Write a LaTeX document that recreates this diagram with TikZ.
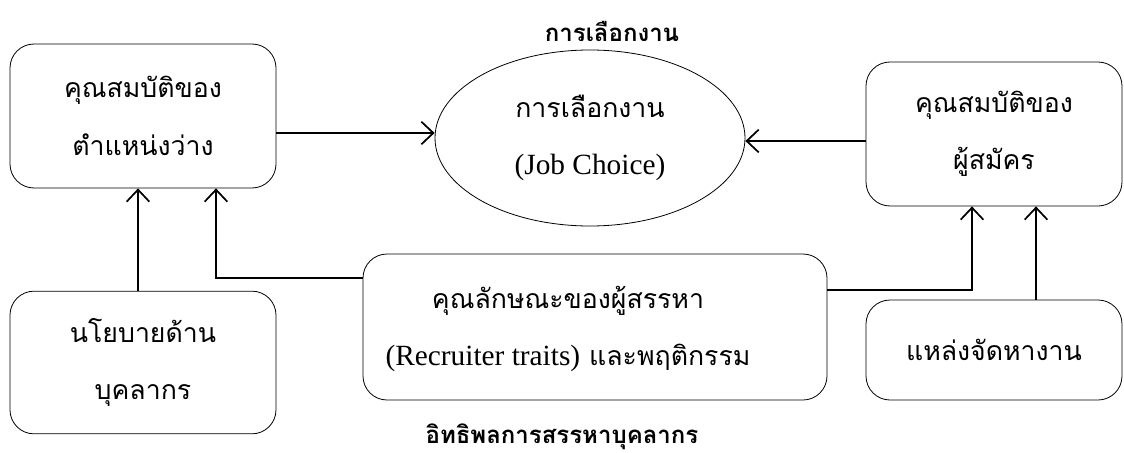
\documentclass[tikz,border=0pt]{standalone}
\usepackage{fontspec}
\setmainfont{Liberation Serif}
\newfontfamily\thaifont[Script=Thai]{Loma}
\usetikzlibrary{arrows.meta,shapes.geometric}
\newcommand{\lat}[1]{{\rmfamily\fontsize{22}{43}\selectfont #1}}
\begin{document}
\begin{tikzpicture}[x=0.75pt,y=-0.75pt,
  box/.style={draw, line width=0.6pt, rounded corners=18pt, align=center, inner sep=0pt,
    font=\thaifont\fontsize{20}{43}\selectfont},
  txt/.style={align=center, inner sep=0pt, font=\thaifont\fontsize{20}{43}\selectfont},
  ell/.style={draw, line width=0.6pt, ellipse, align=center, inner sep=0pt,
    font=\thaifont\fontsize{20}{43}\selectfont},
  ttl/.style={font=\thaifont\bfseries\fontsize{18}{22}\selectfont},
  conn/.style={line width=1.5pt, -{Straight Barb[length=9pt,width=17pt,line width=1.3pt]}}]
\useasboundingbox (0,0) rectangle (1124,453);
% boxes
\node[box, minimum width=199.5pt, minimum height=108pt] (job) at (143,116)
  {คุณสมบัติของ\\ตำแหน่งว่าง};
\node[box, minimum width=192pt, minimum height=108pt] (app) at (994,134)
  {คุณสมบัติของ\\ผู้สมัคร};
\node[box, minimum width=199.5pt, minimum height=107pt] (pol) at (143,362.5)
  {นโยบายด้าน\\บุคลากร};
\node[box, minimum width=348pt, minimum height=109.5pt] (rec) at (595,327) {};
\node[txt] (rectxt) at (568,329)
  {คุณลักษณะของผู้สรรหา\\\lat{(Recruiter traits)} และพฤติกรรม};
\node[box, minimum width=192pt, minimum height=75pt] (src) at (994,350)
  {แหล่งจัดหางาน};
\node[ell, minimum width=232.5pt, minimum height=132pt] (choice) at (590,138)
  {การเลือกงาน\\\lat{(Job Choice)}};
% titles
\node[ttl] (t1) at (612,31) {การเลือกงาน};
\node[ttl] (t2) at (562,437) {อิทธิพลการสรรหาบุคลากร};
% connectors
\draw[conn] ([yshift=-12.75pt]job.east) -- ([yshift=-12.75pt]job.east -| choice.west);
\draw[conn] ([yshift=-5.25pt]app.west) -- ([yshift=-5.25pt]app.west -| choice.east);
\coordinate (ja) at ([xshift=-3.75pt]job.south);
\coordinate (jb) at ([xshift=54.75pt]job.south);
\draw[conn] (pol.north -| ja) -- (ja);
\draw[conn] ([yshift=36.75pt]rec.west) -| (jb);
\coordinate (aa) at ([xshift=-16.5pt]app.south);
\coordinate (ab) at ([xshift=31.5pt]app.south);
\draw[conn] ([yshift=27.75pt]rec.east) -| (aa);
\draw[conn] (src.north -| ab) -- (ab);
\end{tikzpicture}
\end{document}
